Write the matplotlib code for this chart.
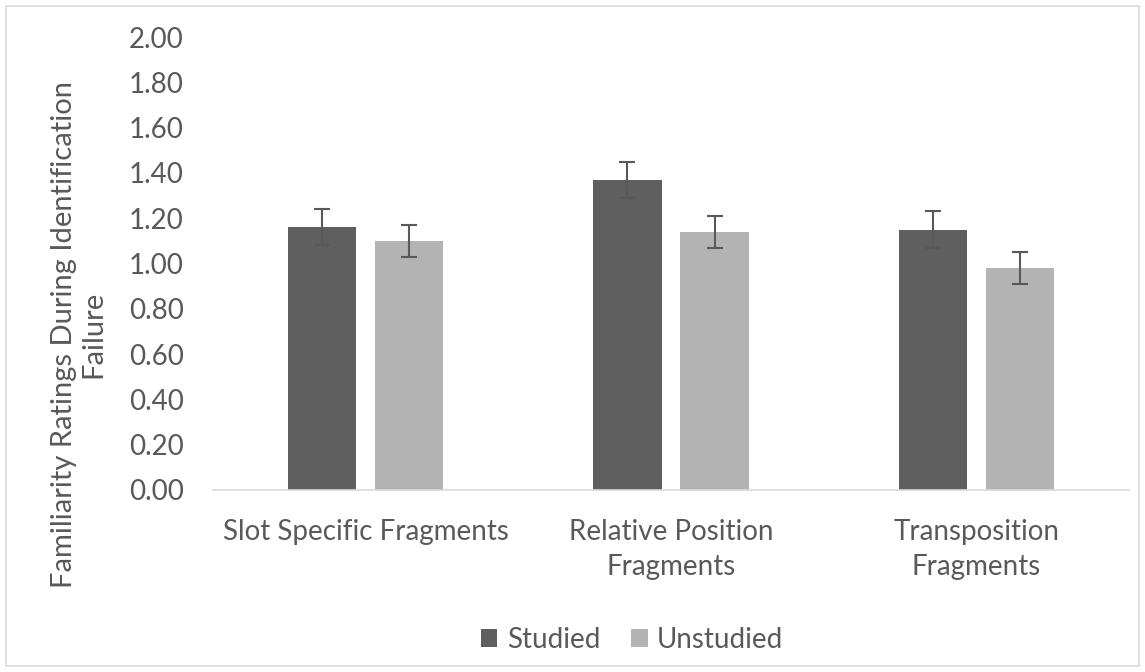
import matplotlib
matplotlib.use("Agg")
import matplotlib.pyplot as plt
import numpy as np
from matplotlib.patches import Rectangle

categories = ["Slot Specific Fragments", "Relative Position\nFragments", "Transposition\nFragments"]
series_names = ["Studied", "Unstudied"]
studied = [1.16, 1.37, 1.15]
unstudied = [1.10, 1.14, 0.98]
studied_err = [0.08, 0.08, 0.08]
unstudied_err = [0.07, 0.07, 0.07]
yticks = [0.0, 0.2, 0.4, 0.6, 0.8, 1.0, 1.2, 1.4, 1.6, 1.8, 2.0]

plt.rcParams['font.family'] = ['Lato', 'DejaVu Sans']
text_color = '#595959'
fs = 20

fig = plt.figure(figsize=(11.45, 6.72), dpi=100)
ax = fig.add_axes([213/1145, 1-490/672, (1129-213)/1145, (490-37)/672])

x = np.arange(len(categories))
bw = 0.223
gap = 0.062
off = (bw + gap) / 2
ax.bar(x - off, studied, bw, color='#5f5f5f', label=series_names[0], zorder=2)
ax.bar(x + off, unstudied, bw, color='#b3b3b3', label=series_names[1], zorder=2)
ekw = dict(fmt='none', ecolor='#595959', elinewidth=1.5, capsize=6, capthick=1.5, zorder=3)
ax.errorbar(x - off, studied, yerr=studied_err, **ekw)
ax.errorbar(x + off, unstudied, yerr=unstudied_err, **ekw)

ax.set_xlim(-0.5, 2.5)
ax.set_ylim(0, 2.0)
ax.set_yticks(yticks)
ax.set_yticklabels([f"{v:.2f}" for v in yticks])
ax.set_xticks(x)
ax.set_xticklabels(categories, linespacing=1.42)
ax.tick_params(axis='both', length=0, labelsize=fs, colors=text_color)
ax.tick_params(axis='y', pad=21)
ax.tick_params(axis='x', pad=21)
for s in ['top', 'right', 'left']:
    ax.spines[s].set_visible(False)
ax.spines['bottom'].set_color('#d9d9d9')
ax.spines['bottom'].set_linewidth(1.2)

ax.set_ylabel("Familiarity Ratings During Identification\nFailure", fontsize=21,
              color=text_color, linespacing=1.15)
ax.yaxis.set_label_coords((106 - 213) / 916, (490 - 334) / 453)

leg = fig.legend(loc='center', bbox_to_anchor=(632/1145, 1-640/672), ncol=2, frameon=False,
                 fontsize=fs, handlelength=0.6, handleheight=0.6, handletextpad=0.35,
                 columnspacing=1.1)
for t in leg.get_texts():
    t.set_color(text_color)

fig.patches.append(Rectangle((6/1145, 6/672), 1-12/1145, 1-12/672, transform=fig.transFigure,
                             fill=False, edgecolor='#d9d9d9', linewidth=1.2))

fig.savefig("out.png", dpi=100, facecolor='white')
